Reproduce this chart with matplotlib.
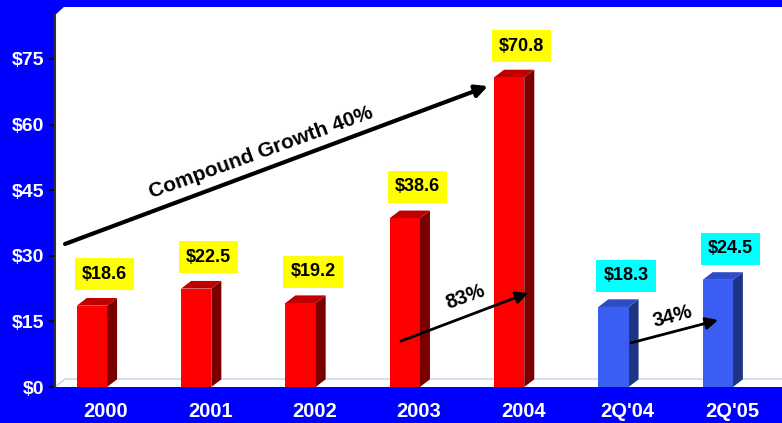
import matplotlib.pyplot as plt
from matplotlib.patches import Polygon, Rectangle
from matplotlib.lines import Line2D

plt.rcParams['font.family'] = ['Liberation Sans', 'DejaVu Sans']
plt.rcParams['font.weight'] = 'bold'

# revenue in $M, full years then second quarters
labels = ['2000', '2001', '2002', '2003', '2004', "2Q'04", "2Q'05"]
revenue = [18.6, 22.5, 19.2, 38.6, 70.8, 18.3, 24.5]
n_annual = 5
yticks = [0, 15, 30, 45, 60, 75]

# growth arrows: (start x, start y, end x, end y, text, text x, text y, angle)
growth = [
    (-0.393, 32.7, 3.662, 68.8, 'Compound Growth 40%', 1.486, 53.7, 20),
    (2.828, 10.5, 4.046, 21.5, '83%', 3.442, 20.6, 20),
    (5.034, 10.1, 5.868, 15.3, '34%', 5.427, 16.2, 15),
]

BG = '#0000FF'
W, H = 782, 423
fig = plt.figure(figsize=(W / 100, H / 100), dpi=100, facecolor=BG)
ax = fig.add_axes([55 / W, 36 / H, 727 / W, 380 / H])
ax.set_facecolor('white')
ax.set_xlim(-0.489, 6.481)
ax.set_ylim(0, 86.89)

for s in ax.spines.values():
    s.set_visible(False)

# 3d depth of the bars and floor
dx, dy = 0.096, 1.75
front_w = 0.29

# floor edge
ax.add_line(Line2D([-0.489, -0.393, 6.481], [0, 1.83, 1.83],
                   color='#D4D4F0', lw=1.2, zorder=1))

for i, v in enumerate(revenue):
    if i < n_annual:
        c_front, c_top, c_side, c_box = '#FF0000', '#C00000', '#7A0000', '#FFFF00'
    else:
        c_front, c_top, c_side, c_box = '#3B5EF2', '#2C4CC8', '#1E3585', '#00FFFF'
    x0 = i - 0.28
    x1 = x0 + front_w
    ax.add_patch(Polygon([(x1, 0), (x1 + dx, dy), (x1 + dx, v + dy), (x1, v)],
                         closed=True, fc=c_side, ec='none', zorder=3))
    ax.add_patch(Polygon([(x0, v), (x1, v), (x1 + dx, v + dy), (x0 + dx, v + dy)],
                         closed=True, fc=c_top, ec='none', zorder=3))
    ax.add_patch(Rectangle((x0, 0), front_w, v, fc=c_front, ec='none', zorder=4))

    # value box above each bar
    bx, by, bw, bh = i - 0.30, v + 3.5, 0.57, 7.3
    ax.add_patch(Rectangle((bx, by), bw, bh, fc=c_box, ec='none', zorder=5))
    ax.text(bx + bw / 2, by + bh / 2, f'${v}', ha='center', va='center',
            fontsize=13, fontweight='bold', color='black', zorder=6)

for x_a, y_a, x_b, y_b, txt, tx, ty, ang in growth:
    lw = 3 if len(txt) > 4 else 2
    ax.annotate('', xy=(x_b, y_b), xytext=(x_a, y_a),
                arrowprops=dict(arrowstyle='-|>', color='black', lw=lw,
                                mutation_scale=18, shrinkA=0, shrinkB=0),
                zorder=7)
    ax.text(tx, ty, txt, rotation=ang, rotation_mode='anchor',
            ha='center', va='center', fontsize=15 if len(txt) > 4 else 14.5,
            fontweight='bold', color='black', zorder=7)

ax.set_yticks(yticks)
ax.set_yticklabels([f'${t}' for t in yticks])
ax.set_xticks(range(len(labels)))
ax.set_xticklabels(labels)
ax.tick_params(axis='y', colors='black', labelcolor='white', labelsize=14,
               length=4.5, width=1.5, pad=3, direction='out')
ax.tick_params(axis='x', length=0, labelcolor='white', labelsize=14.5, pad=11)

# left wall edge with the chamfered corner
fig.add_artist(Line2D([55 / W, 55 / W], [1 - 387 / H, 1 - 15 / H],
                      color='#333333', lw=1.5, transform=fig.transFigure))
fig.add_artist(Polygon([(54 / W, 1 - 6 / H), (65 / W, 1 - 6 / H), (54 / W, 1 - 16 / H)],
                       closed=True, fc=BG, ec='none', transform=fig.transFigure))

fig.savefig('out.png', dpi=100, facecolor=BG)
